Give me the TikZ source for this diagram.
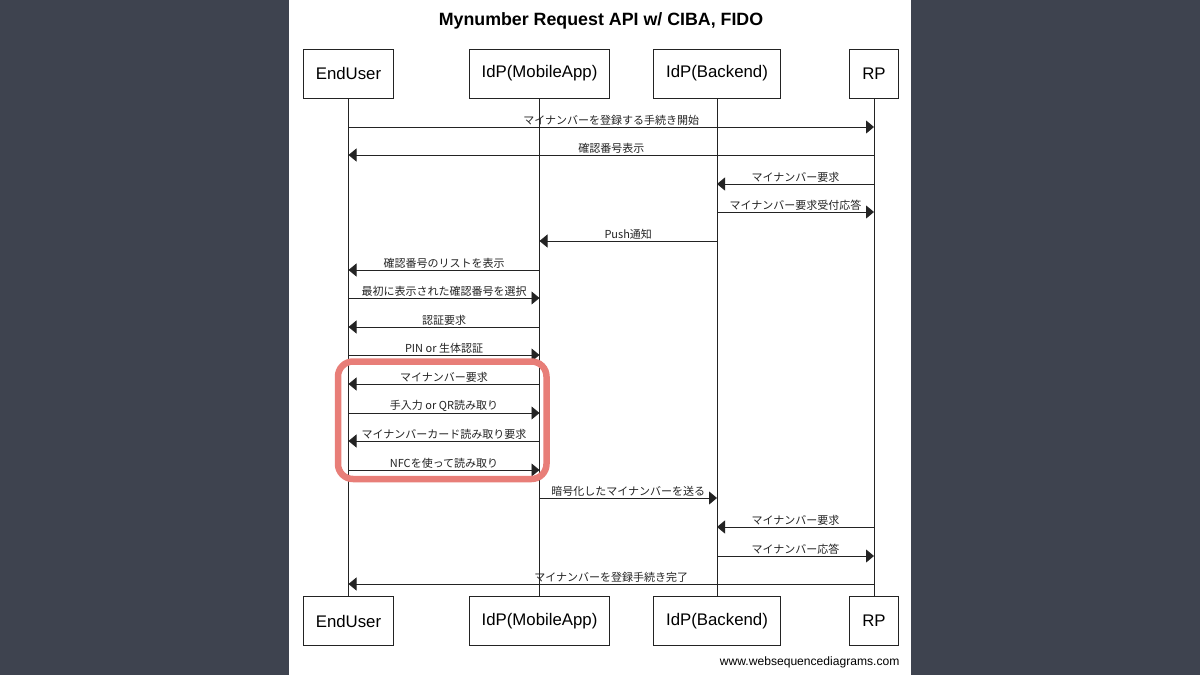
\documentclass[tikz,border=0pt]{standalone}
\usepackage{fontspec}
\setmainfont{Liberation Sans}
\newfontfamily\jpfont{Noto Sans CJK JP}
\usepackage{tikz}
\usetikzlibrary{arrows.meta,positioning}
\definecolor{wsdboard}{RGB}{62,67,79}
\definecolor{wsdline}{RGB}{35,35,35}
\definecolor{wsdmark}{RGB}{232,126,120}
\newcommand{\seqmsg}[4]{%
  \draw[msg] (#1T |- 0,#3) -- node[msglabel] (lbl#3) {#4} (#2T |- 0,#3);
}

\begin{document}
\begin{tikzpicture}[x=1pt,y=-1pt,
    actor/.style={draw=wsdline,line width=.9pt,fill=white,minimum height=49pt,
      inner xsep=12.5pt,font=\fontsize{16.8}{20}\selectfont},
    msglabel/.style={above=1.5pt,inner sep=0pt,font=\jpfont\fontsize{11}{13}\selectfont},
    msg/.style={wsdline,line width=.9pt,-{Triangle[length=8pt,width=13pt]}}]
    \useasboundingbox (0,0) rectangle (1200,675);
    \fill[wsdboard] (0,0) rectangle (1200,675);
    \fill[white] (289,0) rectangle (911,675);
    \node[font=\bfseries\fontsize{17.8}{21}\selectfont] (title) at (601,21)
      {Mynumber Request API w/ CIBA, FIDO};
    \node[actor] (euT) at (348.5,73.5) {EndUser};
    \node[actor] (appT) at (539.5,73.5) {IdP(MobileApp)};
    \node[actor] (beT) at (717,73.5) {IdP(Backend)};
    \node[actor] (rpT) at (874,73.5) {RP};
    \foreach \who/\txt in {eu/EndUser,app/IdP(MobileApp),be/IdP(Backend),rp/RP}{
      \node[actor] (\who B) at (\who T |- 0,621) {\txt};
      \draw[wsdline,line width=.9pt] (\who T.south) -- (\who B.north);
    }
    \seqmsg{eu}{rp}{127}{マイナンバーを登録する手続き開始}
    \seqmsg{rp}{eu}{155}{確認番号表示}
    \seqmsg{rp}{be}{184}{マイナンバー要求}
    \seqmsg{be}{rp}{212}{マイナンバー要求受付応答}
    \seqmsg{be}{app}{241}{Push通知}
    \seqmsg{app}{eu}{270}{確認番号のリストを表示}
    \seqmsg{eu}{app}{298}{最初に表示された確認番号を選択}
    \seqmsg{app}{eu}{327}{認証要求}
    \seqmsg{eu}{app}{355}{PIN or 生体認証}
    \seqmsg{app}{eu}{384}{マイナンバー要求}
    \seqmsg{eu}{app}{413}{手入力 or QR読み取り}
    \seqmsg{app}{eu}{441}{マイナンバーカード読み取り要求}
    \seqmsg{eu}{app}{470}{NFCを使って読み取り}
    \seqmsg{app}{be}{498}{暗号化したマイナンバーを送る}
    \seqmsg{rp}{be}{527}{マイナンバー要求}
    \seqmsg{be}{rp}{556}{マイナンバー応答}
    \seqmsg{rp}{eu}{584}{マイナンバーを登録手続き完了}
    \draw[wsdmark,line width=6.5pt,rounded corners=15pt] (338,361.5) rectangle (546.5,479);
    \node[anchor=east,font=\fontsize{12.1}{14}\selectfont] (site) at (903,662)
      {www.websequencediagrams.com};
  \end{tikzpicture}
\end{document}
